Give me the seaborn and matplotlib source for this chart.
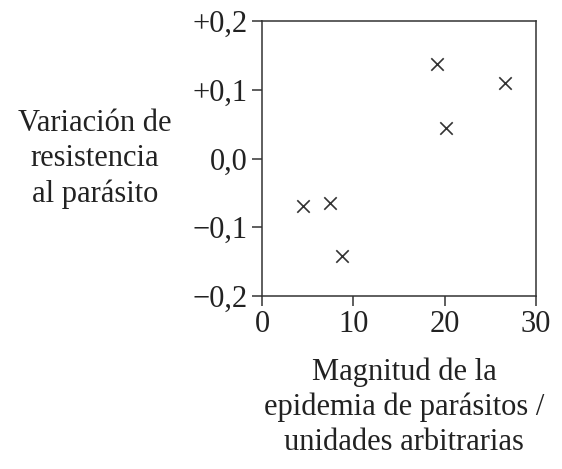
import matplotlib.pyplot as plt
import pandas as pd
import seaborn as sns

# Data
magnitud = [4.5, 7.45, 8.8, 19.2, 20.15, 26.6]
variacion = [-0.069, -0.065, -0.142, 0.138, 0.045, 0.110]
xticks = [0, 10, 20, 30]
xticklabels = ['0', '10', '20', '30']
yticks = [0.2, 0.1, 0.0, -0.1, -0.2]
yticklabels = ['+0,2', '+0,1', '0,0', '\u22120,1', '\u22120,2']

df = pd.DataFrame({'magnitud': magnitud, 'variacion': variacion})

sns.set_style('ticks')
plt.rcParams['font.family'] = ['Liberation Serif', 'DejaVu Serif']

W, H = 562, 469
fig = plt.figure(figsize=(W / 100, H / 100), dpi=100)
ax = fig.add_axes([262 / W, 1 - 296 / H, 274 / W, 275 / H])

sns.scatterplot(data=df, x='magnitud', y='variacion', marker='x', s=80,
                color='#333333', linewidth=1.2, ax=ax, legend=False)

ax.set_xlim(0, 30)
ax.set_ylim(-0.2, 0.2)
ax.set_xticks(xticks)
ax.set_xticklabels(xticklabels)
ax.set_yticks(yticks)
ax.set_yticklabels(yticklabels)
ax.set_xlabel('')
ax.set_ylabel('')
for sp in ax.spines.values():
    sp.set_visible(True)
    sp.set_linewidth(1.1)
    sp.set_color('#333333')
ax.tick_params(axis='both', direction='out', length=7, width=1.1,
               color='#333333', labelsize=22, labelcolor='#222222', pad=3)

fig.text(95 / W, 1 - 159 / H, 'Variación de\nresistencia\nal parásito',
         ha='center', va='center', fontsize=22, color='#222222',
         multialignment='center', linespacing=1.3)
fig.text(404 / W, 1 - 407 / H, 'Magnitud de la\nepidemia de parásitos /\nunidades arbitrarias',
         ha='center', va='center', fontsize=22, color='#222222',
         multialignment='center', linespacing=1.25)

fig.savefig('out.png', dpi=100)
